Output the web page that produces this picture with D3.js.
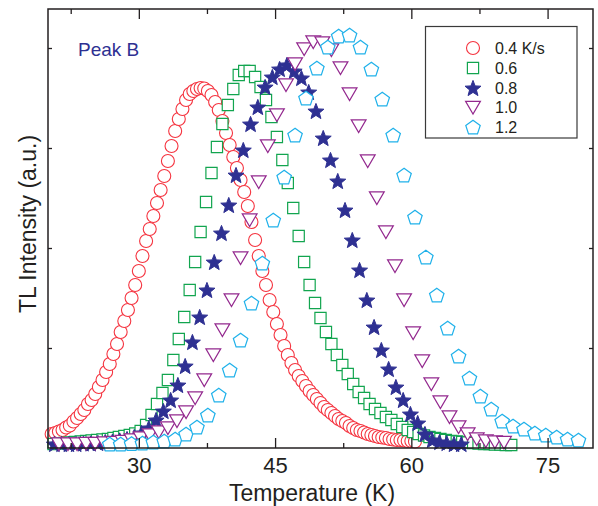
<!DOCTYPE html>
<html><head><meta charset="utf-8">
<script src="https://cdn.jsdelivr.net/npm/d3@7"></script>
<style>
body{margin:0;background:#fff}
svg{display:block;font-family:"Liberation Sans",Arial,Helvetica,sans-serif}
</style>
</head><body>
<svg id="chart" width="598" height="506"></svg>
<script>
// ---------------- data ----------------
const seriesLabels = ["0.4 K/s", "0.6", "0.8", "1.0", "1.2"];
const xMajorTicks = [30, 45, 60, 75];
const xMinorTicks = [22.5, 37.5, 52.5, 67.5];
const yTicks = [1, 2, 3, 4];

const tempA = [20.4,20.8,21.2,21.6,22.0,22.4,22.8,23.2,23.6,24.0,24.4,24.8,25.2,25.6,26.0,26.4,26.8,27.2,27.6,28.0,
  28.4,28.8,29.2,29.6,30.0,30.4,30.8,31.2,31.6,32.0,32.4,32.8,33.2,33.6,34.0,34.4,34.8,35.2,35.6,36.0,
  36.4,36.8,37.2,37.6,38.0,38.4,38.8,39.2,39.6,40.0,40.4,40.8,41.2,41.6,42.0,42.4,42.8,43.2,43.6,44.0,
  44.4,44.8,45.2,45.6,46.0,46.4,46.8,47.2,47.6,48.0,48.4,48.8,49.2,49.6,50.0,50.4,50.8,51.2,51.6,52.0,
  52.4,52.8,53.2,53.6,54.0,54.4,54.8,55.2,55.6,56.0,56.4,56.8,57.2,57.6,58.0,58.4,58.8,59.2,59.6,60.0,60.4];
const intA = [0.14,0.15,0.165,0.18,0.205,0.225,0.265,0.30,0.34,0.38,0.44,0.48,0.54,0.61,0.68,0.76,0.84,0.94,1.04,1.16,
  1.27,1.38,1.50,1.63,1.77,1.92,2.07,2.19,2.32,2.45,2.58,2.72,2.87,3.02,3.17,3.29,3.39,3.48,3.54,3.57,
  3.59,3.60,3.595,3.57,3.53,3.46,3.38,3.27,3.15,3.03,2.91,2.80,2.68,2.56,2.42,2.26,2.08,1.92,1.77,1.63,
  1.48,1.36,1.24,1.13,1.02,0.93,0.85,0.78,0.72,0.67,0.62,0.57,0.53,0.49,0.45,0.41,0.38,0.35,0.32,0.29,
  0.27,0.25,0.22,0.20,0.18,0.17,0.155,0.14,0.13,0.12,0.11,0.105,0.10,0.09,0.085,0.08,0.08,0.075,0.07,0.07,0.065];

const tempB = [20.6,21.2,21.8,22.4,23.0,23.6,24.2,24.8,25.4,26.0,26.6,27.2,27.8,28.4,29.0,29.6,30.2,30.8,31.4,32.0,
  32.6,33.2,33.8,34.4,35.0,35.6,36.2,36.8,37.4,38.0,38.6,39.2,39.8,40.4,41.0,41.6,42.2,42.8,43.4,44.0,
  44.6,45.2,45.8,46.4,47.0,47.6,48.2,48.8,49.4,50.0,50.6,51.2,51.8,52.4,53.0,53.6,54.2,54.8,55.4,56.0,
  56.6,57.2,57.8,58.4,59.0,59.6,60.2,60.8,61.4,62.0,62.6,63.2,63.8,64.4,65.0,65.6,66.2,66.8,67.4,68.0,
  68.6,69.2,69.8,70.4,71.0];
const intB = [0.04,0.045,0.05,0.055,0.06,0.065,0.07,0.075,0.08,0.085,0.09,0.10,0.11,0.12,0.13,0.145,0.17,0.23,0.33,0.44,
  0.55,0.68,0.88,1.09,1.31,1.58,1.86,2.16,2.46,2.75,3.01,3.24,3.43,3.59,3.73,3.77,3.77,3.71,3.61,3.48,
  3.31,3.11,2.88,2.65,2.40,2.12,1.86,1.63,1.45,1.30,1.16,1.04,0.93,0.83,0.74,0.64,0.56,0.50,0.44,0.39,
  0.35,0.31,0.28,0.24,0.21,0.18,0.16,0.14,0.125,0.11,0.10,0.09,0.08,0.07,0.065,0.06,0.055,0.05,0.045,0.04,
  0.04,0.035,0.035,0.03,0.03];

const tempC = [20.7,21.5,22.3,23.1,23.9,24.7,25.5,26.3,27.1,27.9,28.7,29.5,30.3,31.1,31.9,32.7,33.5,34.3,35.1,35.9,
  36.7,37.5,38.3,39.1,39.9,40.7,41.5,42.3,43.1,43.9,44.7,45.5,46.3,47.1,47.9,48.7,49.5,50.3,51.1,51.9,
  52.7,53.5,54.3,55.1,55.9,56.7,57.5,58.3,59.1,59.9,60.7,61.5,62.3,63.1,63.9,64.7,65.5];
const intC = [0.04,0.04,0.04,0.04,0.045,0.045,0.05,0.06,0.065,0.075,0.09,0.11,0.15,0.20,0.28,0.37,0.48,0.63,0.82,1.06,
  1.31,1.58,1.86,2.15,2.43,2.73,2.98,3.24,3.41,3.61,3.71,3.79,3.83,3.77,3.70,3.56,3.37,3.10,2.88,2.67,
  2.38,2.08,1.78,1.48,1.21,0.98,0.79,0.61,0.48,0.34,0.25,0.14,0.08,0.06,0.05,0.04,0.04];

const tempD = [21.2,22.2,23.2,24.2,25.2,26.2,27.2,28.2,29.2,30.2,31.2,32.2,33.2,34.2,35.2,36.2,37.2,38.2,39.2,40.2,
  41.2,42.2,43.2,44.2,45.2,46.2,47.2,48.2,49.2,50.2,51.2,52.2,53.2,54.2,55.2,56.2,57.2,58.2,59.2,60.2,
  61.2,62.2,63.2,64.2,65.2,66.2,67.2,68.2,69.2,70.2];
const intD = [0.04,0.04,0.04,0.045,0.045,0.05,0.055,0.065,0.08,0.10,0.13,0.16,0.20,0.27,0.36,0.50,0.68,0.93,1.18,1.48,
  1.90,2.28,2.66,3.02,3.33,3.63,3.84,3.99,4.06,4.05,3.98,3.80,3.54,3.22,2.87,2.50,2.16,1.82,1.48,1.15,
  0.87,0.64,0.46,0.31,0.21,0.14,0.09,0.07,0.06,0.055];

const tempE = [26.8,28.0,29.2,30.4,31.6,32.8,34.0,35.2,36.4,37.6,38.8,40.0,41.2,42.4,43.6,44.8,46.0,47.2,48.4,49.6,
  50.8,52.0,53.2,54.4,55.6,56.8,58.0,59.2,60.4,61.6,62.8,64.0,65.2,66.4,67.6,68.8,70.0,71.2,72.4,73.6,
  74.8,76.0,77.2,78.4];
const intE = [0.04,0.04,0.045,0.05,0.06,0.07,0.09,0.14,0.21,0.33,0.53,0.78,1.08,1.45,1.85,2.28,2.71,3.13,3.50,3.80,
  4.01,4.12,4.13,4.01,3.79,3.49,3.13,2.73,2.31,1.91,1.53,1.20,0.92,0.70,0.52,0.39,0.27,0.22,0.19,0.15,
  0.13,0.11,0.09,0.08];

// ---------------- drawing ----------------
const svg = d3.select("#chart");
const x = d3.scaleLinear().domain([20, 80]).range([48, 593]);
const y = d3.scaleLinear().domain([0, 4.39]).range([448, 9]);

const colors = ["#f5333f", "#12a54f", "#2e3092", "#93288e", "#1fb1ea"];

function starPath(R, r) {
  let p = "";
  for (let i = 0; i < 10; i++) {
    const a = -Math.PI / 2 + i * Math.PI / 5;
    const rad = i % 2 === 0 ? R : r;
    p += (i ? "L" : "M") + (rad * Math.cos(a)).toFixed(2) + "," + (rad * Math.sin(a) + 0.8).toFixed(2);
  }
  return p + "Z";
}
function pentPath(R) {
  let p = "";
  for (let i = 0; i < 5; i++) {
    const a = -Math.PI / 2 + i * 2 * Math.PI / 5;
    p += (i ? "L" : "M") + (R * Math.cos(a)).toFixed(2) + "," + (R * Math.sin(a) + 0.75).toFixed(2);
  }
  return p + "Z";
}
const shapes = [
  "M-6.5,0A6.5,6.5 0 1,0 6.5,0A6.5,6.5 0 1,0 -6.5,0Z",
  "M-5.6,-5.6H5.6V5.6H-5.6Z",
  starPath(8.4, 3.6),
  "M-7.4,-6.2L7.4,-6.2L0,6.6Z",
  pentPath(7.6)
];
const fills = ["#fff", "#fff", "#2e3092", "#fff", "#fff"];
const widths = [1.1, 1.2, 1.0, 1.2, 1.2];

const series = [
  {t: tempA, v: intA}, {t: tempB, v: intB}, {t: tempC, v: intC},
  {t: tempD, v: intD}, {t: tempE, v: intE}
];

const plot = svg.append("g");
series.forEach((s, i) => {
  const pts = s.t.map((t, k) => ({t: t, v: s.v[k]}));
  plot.append("g").selectAll("path").data(pts).enter().append("path")
    .attr("d", shapes[i])
    .attr("transform", d => `translate(${x(d.t)},${y(d.v)})`)
    .attr("fill", fills[i])
    .attr("stroke", colors[i])
    .attr("stroke-width", widths[i])
    .attr("stroke-linejoin", "miter");
});

// axes (ticks inward)
const axisColor = "#231f20";
function styleAxis(g) {
  g.select(".domain").remove();
  g.selectAll(".tick line").attr("stroke", axisColor).attr("stroke-width", 1.3);
  g.selectAll(".tick text").attr("fill", "#231f20");
}
svg.append("g").attr("transform", `translate(0,${y(0)})`)
  .call(d3.axisBottom(x).tickValues(xMajorTicks).tickSizeInner(-10).tickSizeOuter(0).tickPadding(9).tickFormat(d3.format("d")))
  .call(styleAxis)
  .call(g => g.selectAll(".tick text").attr("font-size", 22).attr("font-family", "Liberation Sans, Arial, sans-serif"));
svg.append("g").attr("transform", `translate(0,${y(0)})`)
  .call(d3.axisBottom(x).tickValues(xMinorTicks).tickSizeInner(-5).tickSizeOuter(0).tickFormat(""))
  .call(styleAxis);
svg.append("g").attr("transform", `translate(0,${y.range()[1]})`)
  .call(d3.axisTop(x).tickValues(xMajorTicks).tickSizeInner(-10).tickSizeOuter(0).tickFormat(""))
  .call(styleAxis);
svg.append("g").attr("transform", `translate(0,${y.range()[1]})`)
  .call(d3.axisTop(x).tickValues(xMinorTicks).tickSizeInner(-5).tickSizeOuter(0).tickFormat(""))
  .call(styleAxis);
svg.append("g").attr("transform", `translate(${x(20)},0)`)
  .call(d3.axisLeft(y).tickValues(yTicks).tickSizeInner(-4).tickSizeOuter(0).tickFormat(""))
  .call(styleAxis);
svg.append("g").attr("transform", `translate(${x(80)},0)`)
  .call(d3.axisRight(y).tickValues(yTicks).tickSizeInner(-4).tickSizeOuter(0).tickFormat(""))
  .call(styleAxis);

// frame
svg.append("rect")
  .attr("x", x(20)).attr("y", y.range()[1])
  .attr("width", x(80) - x(20)).attr("height", y(0) - y.range()[1])
  .attr("fill", "none").attr("stroke", axisColor).attr("stroke-width", 1.5);

// axis titles
svg.append("text").attr("x", 312).attr("y", 501).attr("text-anchor", "middle")
  .attr("font-size", 23).attr("fill", "#231f20").text("Temperature (K)");
svg.append("text").attr("transform", "translate(36,224) rotate(-90)").attr("text-anchor", "middle")
  .attr("font-size", 23).attr("fill", "#231f20").text("TL Intensity (a.u.)");

// annotation
svg.append("text").attr("x", 78).attr("y", 55.5)
  .attr("font-size", 19).attr("fill", "#2e3092").text("Peak B");

// legend
const lg = svg.append("g");
lg.append("rect").attr("x", 425.5).attr("y", 26.5).attr("width", 151.5).attr("height", 111.5)
  .attr("fill", "#fff").attr("stroke", "#3a3a3a").attr("stroke-width", 1.2);
const rowY = [48, 68, 88, 107.5, 127];
seriesLabels.forEach((lab, i) => {
  lg.append("path").attr("d", shapes[i])
    .attr("transform", `translate(473,${rowY[i]})`)
    .attr("fill", fills[i]).attr("stroke", colors[i]).attr("stroke-width", widths[i]);
  lg.append("text").attr("x", 495).attr("y", rowY[i] + 5.8)
    .attr("font-size", 16).attr("fill", "#231f20").text(lab);
});
</script>
</body></html>
